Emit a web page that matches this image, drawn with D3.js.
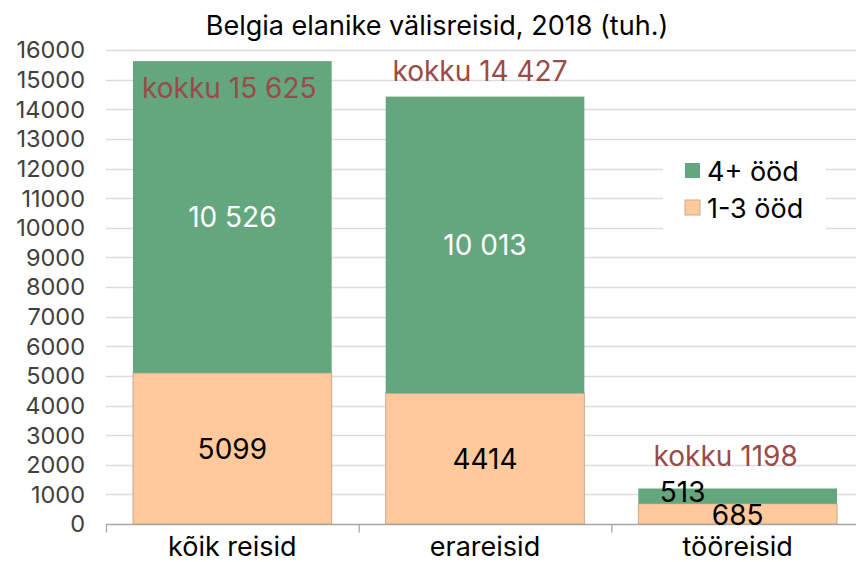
<!DOCTYPE html>
<html>
<head>
<meta charset="utf-8">
<script src="https://cdnjs.cloudflare.com/ajax/libs/d3/7.8.5/d3.min.js"></script>
<style>
  body { margin: 0; background: #fff; }
  svg { display: block; font-family: "Inter", "DejaVu Sans", sans-serif; }
</style>
</head>
<body>
<div id="chart"></div>
<script>
const categories = ["kõik reisid", "erareisid", "tööreisid"];
const seriesNames = ["1-3 ööd", "4+ ööd"];
const shortTrips = [5099, 4414, 685];
const longTrips = [10526, 10013, 513];
const totals = [15625, 14427, 1198];
const yTicks = d3.range(0, 16001, 1000);

const width = 856, height = 562;
const margin = { top: 50, right: -8, bottom: 38, left: 106 };

const colors = { "1-3 ööd": "#ffc99c", "4+ ööd": "#64a67d" };

const svg = d3.select("#chart").append("svg")
  .attr("width", width)
  .attr("height", height);

const x = d3.scaleBand()
  .domain(categories)
  .range([margin.left, width - margin.right])
  .paddingInner(0)
  .paddingOuter(0);

const barPad = 27;

const y = d3.scaleLinear()
  .domain([0, 16000])
  .range([height - margin.bottom, margin.top]);

// Excel-style: space separator only for 5+ digits
const fmt = v => v >= 10000 ? d3.format(",")(v).replace(/,/g, " ") : String(v);

// gridlines
svg.append("g")
  .selectAll("line")
  .data(yTicks.slice(1))
  .join("line")
  .attr("x1", margin.left)
  .attr("x2", width)
  .attr("y1", d => Math.round(y(d)) + 0.5)
  .attr("y2", d => Math.round(y(d)) + 0.5)
  .attr("stroke", "#dcdcdc")
  .attr("stroke-width", 1.3);

// y axis labels
svg.append("g")
  .selectAll("text")
  .data(yTicks)
  .join("text")
  .attr("x", 85)
  .attr("y", d => y(d))
  .attr("dy", "0.36em")
  .attr("text-anchor", "end")
  .attr("font-size", 23.5)
  .attr("fill", "#404040")
  .text(d => d);

// stacked bars
const rows = categories.map((c, i) => ({ cat: c, "1-3 ööd": shortTrips[i], "4+ ööd": longTrips[i] }));
const stack = d3.stack().keys(seriesNames)(rows);

svg.append("g")
  .selectAll("g")
  .data(stack)
  .join("g")
  .attr("fill", d => colors[d.key])
  .attr("stroke", d => d.key === "1-3 ööd" ? "#c8a88c" : "none")
  .attr("stroke-width", 1)
  .selectAll("rect")
  .data(d => d)
  .join("rect")
  .attr("x", d => x(d.data.cat) + barPad)
  .attr("width", x.bandwidth() - barPad * 2)
  .attr("y", d => y(d[1]))
  .attr("height", d => y(d[0]) - y(d[1]));

// x axis
const baseY = Math.round(y(0)) + 0.5;
svg.append("line")
  .attr("x1", margin.left).attr("x2", width)
  .attr("y1", baseY).attr("y2", baseY)
  .attr("stroke", "#a6a6a6").attr("stroke-width", 1.3);

svg.append("g")
  .selectAll("line")
  .data(categories)
  .join("line")
  .attr("x1", d => x(d) + 0.5).attr("x2", d => x(d) + 0.5)
  .attr("y1", baseY).attr("y2", baseY + 8)
  .attr("stroke", "#a6a6a6").attr("stroke-width", 1.3);

svg.append("g")
  .selectAll("text")
  .data(categories)
  .join("text")
  .attr("x", d => x(d) + x.bandwidth() / 2)
  .attr("y", 556)
  .attr("text-anchor", "middle")
  .attr("font-size", 27)
  .attr("fill", "#000")
  .text(d => d);

// value labels inside segments
const labelOffsets = { "1-3 ööd": [0, 0, 0], "4+ ööd": [0, 0, -55] };
const labelDy = { "1-3 ööd": [0, 0, 1], "4+ ööd": [0, 0, -4] };
stack.forEach(s => {
  svg.append("g")
    .selectAll("text")
    .data(s)
    .join("text")
    .attr("x", (d, i) => x(d.data.cat) + x.bandwidth() / 2 + labelOffsets[s.key][i])
    .attr("y", (d, i) => y((d[0] + d[1]) / 2) + labelDy[s.key][i])
    .attr("dy", "0.36em")
    .attr("text-anchor", "middle")
    .attr("font-size", 28)
    .attr("fill", (d, i) => s.key === "4+ ööd" && i < 2 ? "#fff" : "#000")
    .text(d => fmt(d[1] - d[0]));
});

// totals
const totalPos = [{ dx: -3, dy: 37 }, { dx: -5, dy: -16 }, { dx: -12, dy: -23 }];
svg.append("g")
  .selectAll("text")
  .data(totals)
  .join("text")
  .attr("x", (d, i) => x(categories[i]) + x.bandwidth() / 2 + totalPos[i].dx)
  .attr("y", (d, i) => y(d) + totalPos[i].dy)
  .attr("text-anchor", "middle")
  .attr("font-size", 28)
  .attr("fill", "#9b4a48")
  .text(d => "kokku " + fmt(d));

// title
svg.append("text")
  .attr("x", 437)
  .attr("y", 35)
  .attr("text-anchor", "middle")
  .attr("font-size", 27)
  .attr("fill", "#000")
  .text("Belgia elanike välisreisid, 2018 (tuh.)");

// legend
const legend = svg.append("g").attr("transform", "translate(663,150)");
legend.append("rect")
  .attr("width", 163).attr("height", 82)
  .attr("fill", "#fff");
const legendItems = ["4+ ööd", "1-3 ööd"];
legendItems.forEach((k, i) => {
  const g = legend.append("g").attr("transform", `translate(22,${13 + i * 37})`);
  g.append("rect")
    .attr("width", 15).attr("height", 15)
    .attr("fill", colors[k])
    .attr("stroke", k === "1-3 ööd" ? "#c8a88c" : "none");
  g.append("text")
    .attr("x", 22).attr("y", 8)
    .attr("dy", "0.36em")
    .attr("font-size", 27)
    .text(k);
});
</script>
</body>
</html>
